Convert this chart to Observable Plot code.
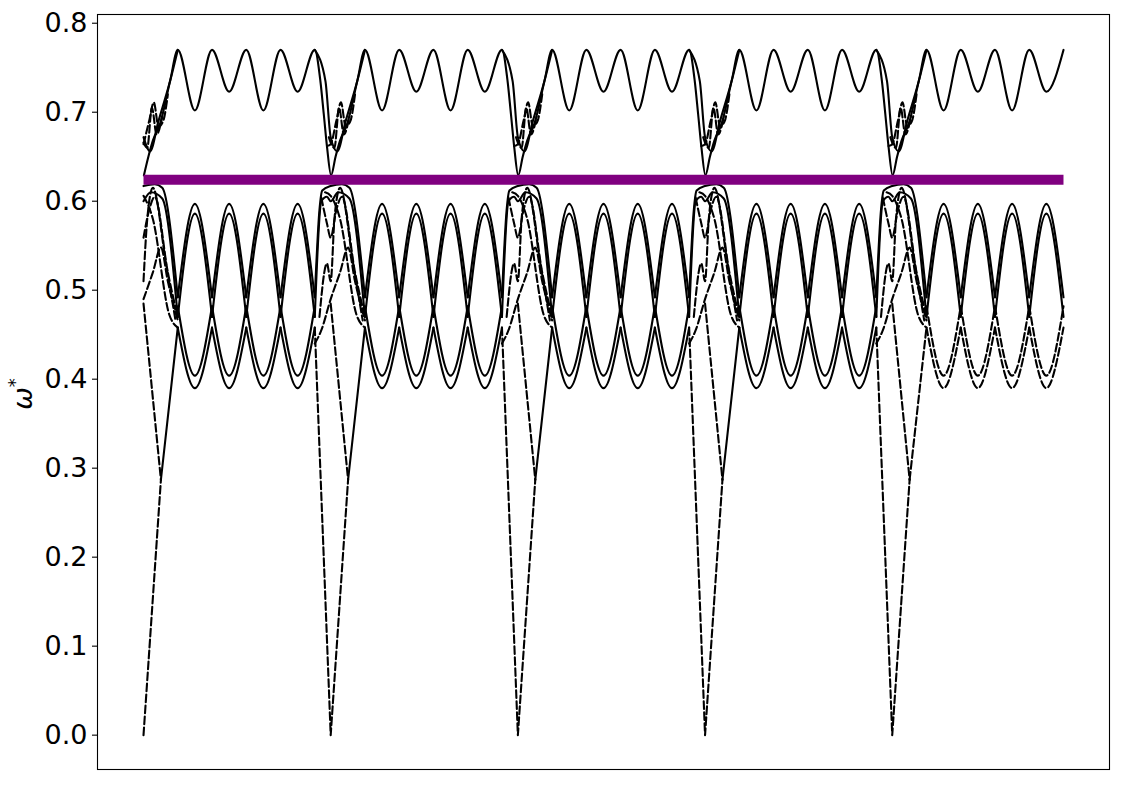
<!DOCTYPE html>
<html>
<head>
<meta charset="utf-8">
<script src="https://cdn.jsdelivr.net/npm/d3@7"></script>
<script src="https://cdn.jsdelivr.net/npm/@observablehq/plot@0.6"></script>
<style>
  html, body { margin: 0; padding: 0; background: #fff; }
  #chart { width: 1125px; height: 785px; }
</style>
</head>
<body>
<div id="chart"></div>
<script>
// ---------- data (x in units of one repeat period) ----------
const periodStarts = [0, 1, 2, 3, 4];
const dataEnd = 4.915;
const yTicks = [0.0, 0.1, 0.2, 0.3, 0.4, 0.5, 0.6, 0.7, 0.8];
const gapLevel = 0.624;

// cusp / crossing positions and arch centres inside a period
const cuspX = [0.183, 0.366, 0.549, 0.732, 0.915];
const centerX = [0.2745, 0.4575, 0.6405, 0.8235];

// top band (solid): peaks at cusps, alternating troughs at centres
const topPeakY = [0.770, 0.770, 0.770, 0.770, 0.770];
const topTroughY = [0.702, 0.723, 0.702, 0.723];

// top band around each period start (offsets from period start)
const topDipAX = [-0.055, -0.037, -0.019, 0.002, 0.026, 0.05, 0.09, 0.142];
const topDipAY = [0.735, 0.698, 0.660, 0.629, 0.650, 0.668, 0.688, 0.735];
const topDipBX = [-0.085, -0.028, 0.0, 0.035, 0.08, 0.142, 0.183];
const topDipBY = [0.770, 0.735, 0.672, 0.656, 0.690, 0.735, 0.770];
const topDashAX = [-0.02, 0.0, 0.03, 0.055, 0.08, 0.105, 0.13];
const topDashAY = [0.662, 0.664, 0.690, 0.711, 0.684, 0.690, 0.72];
const topDashBX = [-0.01, 0.0, 0.02, 0.045, 0.07, 0.1];
const topDashBY = [0.672, 0.666, 0.660, 0.705, 0.675, 0.695];

// arches (solid): outer and inner
const archCuspY = [0.492, 0.470];
const archPeakY = [0.597, 0.586];
// U shapes: outer and inner
const uCuspY = [0.458, 0.482];
const uBottomY = [0.390, 0.404];
const uStyle = ["solid", "solid", "solid", "solid", "dashed"];

// humps over each period start (solid)
const humpAX = [-0.085, -0.06, -0.045, 0.0, 0.06, 0.1, 0.183];
const humpAY = [0.492, 0.590, 0.612, 0.617, 0.619, 0.615, 0.492];
const humpBX = [-0.085, -0.05, -0.02, 0.0, 0.04, 0.1, 0.183];
const humpBY = [0.470, 0.600, 0.605, 0.600, 0.610, 0.603, 0.470];

// dashed tangle around each period start
const tangle1X = [-0.085, -0.05, 0.0, 0.05, 0.093, 0.13, 0.183];
const tangle1Y = [0.440, 0.455, 0.490, 0.520, 0.548, 0.510, 0.466];
const tangle2X = [-0.05, -0.02, 0.0, 0.03, 0.06, 0.13, 0.183];
const tangle2Y = [0.604, 0.575, 0.559, 0.590, 0.605, 0.520, 0.470];
const tangle3X = [-0.03, 0.0, 0.05, 0.137, 0.183];
const tangle3Y = [0.610, 0.606, 0.580, 0.473, 0.458];
const tangle4X = [-0.06, -0.02, 0.0, 0.02, 0.05, 0.12, 0.171];
const tangle4Y = [0.470, 0.530, 0.510, 0.580, 0.615, 0.530, 0.466];

// low V and acoustic branch (straight)
const vLeftX = [0.0, 0.093];
const vLeftY = [0.485, 0.287];
const vRightX = [0.093, 0.183];
const vRightY = [0.287, 0.458];
const acousticX = [-0.085, 0.0, 0.093];
const acousticY = [0.458, 0.0, 0.287];

// ---------- build series ----------
const smoothSolid = [], smoothDashed = [], linSolid = [], linDashed = [];
let sid = 0;
function seg(target, x0, xs, ys) {
  const pts = [];
  xs.forEach((x, i) => {
    const X = x0 + x;
    if (X >= -1e-9 && X <= dataEnd + 1e-9) pts.push({x: X, y: ys[i], id: sid});
  });
  if (pts.length > 1) target.push(...pts);
  sid++;
}

// main top band, one continuous line
{
  const xs = [], ys = [];
  periodStarts.forEach(k => {
    topDipAX.forEach((d, i) => { xs.push(k + d); ys.push(topDipAY[i]); });
    cuspX.forEach((c, j) => {
      xs.push(k + c); ys.push(topPeakY[j]);
      if (j < centerX.length) { xs.push(k + centerX[j]); ys.push(topTroughY[j]); }
    });
  });
  seg(smoothSolid, 0, xs, ys);
}

periodStarts.forEach(k => {
  seg(smoothSolid, k, topDipBX, topDipBY);
  seg(smoothDashed, k, topDashAX, topDashAY);
  seg(smoothDashed, k, topDashBX, topDashBY);
  seg(smoothSolid, k, humpAX, humpAY);
  seg(smoothSolid, k, humpBX, humpBY);
  seg(smoothDashed, k, tangle1X, tangle1Y);
  seg(smoothDashed, k, tangle2X, tangle2Y);
  seg(smoothDashed, k, tangle3X, tangle3Y);
  seg(smoothDashed, k, tangle4X, tangle4Y);
  for (let j = 0; j < centerX.length; j++) {
    const xs = [cuspX[j], centerX[j], cuspX[j + 1]];
    archCuspY.forEach((cy, a) => seg(smoothSolid, k, xs, [cy, archPeakY[a], cy]));
    uCuspY.forEach((cy, a) =>
      seg(uStyle[k] === "dashed" ? smoothDashed : smoothSolid, k, xs, [cy, uBottomY[a], cy]));
  }
  seg(linDashed, k, vLeftX, vLeftY);
  seg(uStyle[k] === "dashed" ? linDashed : linSolid, k, vRightX, vRightY);
  seg(linDashed, k, acousticX, acousticY);
});

const gapLine = [{x: 0, y: gapLevel}, {x: dataEnd, y: gapLevel}];

const dash = "7.7,3.3";
const lw = 2.1;

const plot = Plot.plot({
  width: 1125,
  height: 785,
  marginTop: 14,
  marginBottom: 16,
  marginLeft: 97,
  marginRight: 16,
  style: {fontFamily: "DejaVu Sans", fontSize: "27px", background: "#fff", color: "#000"},
  x: {domain: [-0.2458, 5.1608], axis: null},
  y: {domain: [-0.0386, 0.8098], axis: null},
  marks: [
    Plot.line(smoothSolid, {x: "x", y: "y", z: "id", curve: "monotone-x", stroke: "black", strokeWidth: lw}),
    Plot.line(smoothDashed, {x: "x", y: "y", z: "id", curve: "monotone-x", stroke: "black", strokeWidth: lw, strokeDasharray: dash}),
    Plot.line(linSolid, {x: "x", y: "y", z: "id", stroke: "black", strokeWidth: lw}),
    Plot.line(linDashed, {x: "x", y: "y", z: "id", stroke: "black", strokeWidth: lw, strokeDasharray: dash}),
    Plot.line(gapLine, {x: "x", y: "y", stroke: "#800080", strokeWidth: 10, strokeLinecap: "butt"}),
    Plot.axisY(yTicks, {tickFormat: d => d.toFixed(1), tickSize: 5, tickPadding: 5, fontSize: 27, strokeWidth: 1.1, label: null}),
    Plot.frame({stroke: "black", strokeWidth: 1.1})
  ]
});

document.getElementById("chart").appendChild(plot);

// y label: italic omega with superscript asterisk
const svg = d3.select(plot);
const lab = svg.append("text")
  .attr("transform", "translate(32,394) rotate(-90)")
  .attr("text-anchor", "middle")
  .attr("font-family", "DejaVu Sans")
  .attr("font-size", 27)
  .attr("fill", "black");
lab.append("tspan").attr("font-style", "italic").text("ω");
lab.append("tspan").attr("dy", -11).attr("font-size", 18).text("*");
</script>
</body>
</html>
